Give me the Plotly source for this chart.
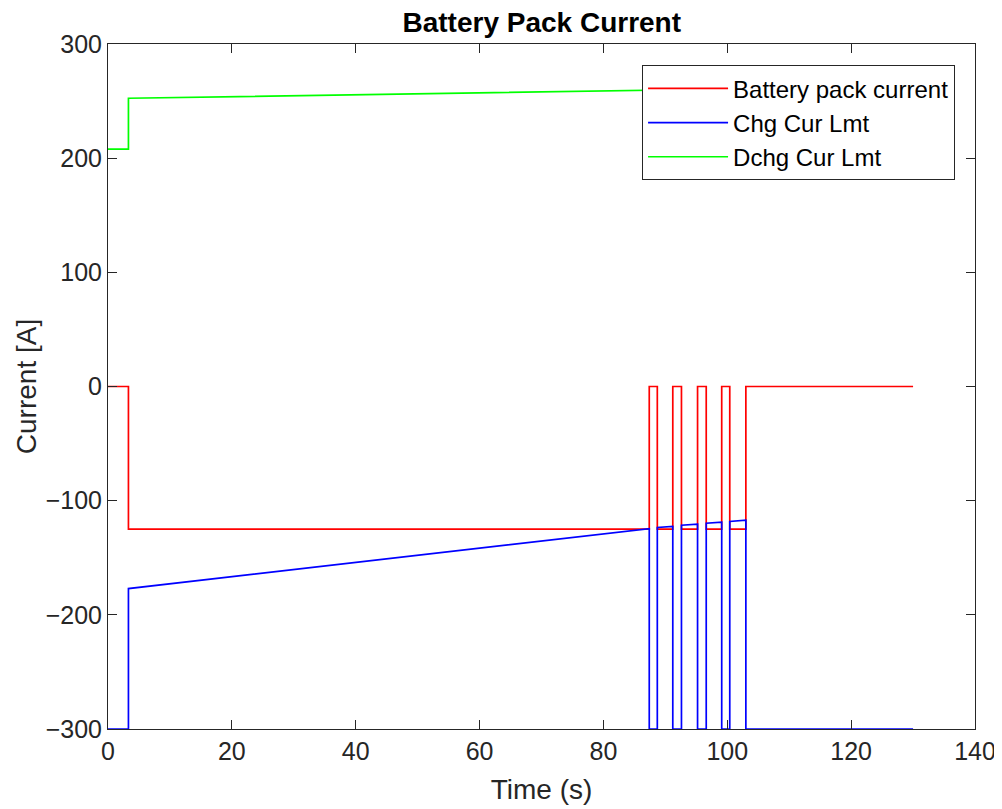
import plotly.graph_objects as go

# Time breakpoints (s)
t_pts = [0, 3.3, 3.3, 87.4, 87.4, 88.7, 88.7, 91.2, 91.2, 92.6, 92.6, 95.2, 95.2,
         96.6, 96.6, 99.1, 99.1, 100.4, 100.4, 103.0, 103.0, 130]
# Battery pack current (A)
pack_current = [0, 0, -125, -125, 0, 0, -125, -125, 0, 0, -125, -125, 0,
                0, -125, -125, 0, 0, -125, -125, 0, 0]
# Charge current limit (A)
chg_limit = [-300, -300, -177, -124.5, -300, -300, -123.5, -122.5, -300, -300, -121.5, -120.5, -300,
             -300, -119.8, -118.8, -300, -300, -118.2, -117, -300, -300]
# Discharge current limit (A)
t_dchg = [0, 3.3, 3.3, 130]
dchg_limit = [208, 208, 252.5, 263]

font_family = "Liberation Sans, Arial, sans-serif"
axis_color = "#262626"

fig = go.Figure()
fig.add_trace(go.Scatter(x=t_pts, y=pack_current, mode="lines", name="Battery pack current",
                         line=dict(color="#ff0000", width=1.7)))
fig.add_trace(go.Scatter(x=t_pts, y=chg_limit, mode="lines", name="Chg Cur Lmt",
                         line=dict(color="#0000ff", width=1.7)))
fig.add_trace(go.Scatter(x=t_dchg, y=dchg_limit, mode="lines", name="Dchg Cur Lmt",
                         line=dict(color="#00ff00", width=1.7)))

axis_common = dict(showgrid=False, zeroline=False, showline=True, linecolor=axis_color,
                   linewidth=1, mirror="ticks", ticks="inside", ticklen=9, tickcolor=axis_color,
                   automargin=False,
                   tickfont=dict(family=font_family, size=25, color=axis_color))

fig.update_layout(
    width=994, height=801,
    margin=dict(l=100, r=27, t=36, b=80),
    paper_bgcolor="white", plot_bgcolor="white",
    title=dict(text="<b>Battery Pack Current</b>", x=0.537, xanchor="center", y=0.982, yanchor="middle",
               font=dict(family=font_family, size=28, color="black")),
    xaxis=dict(range=[0, 140], dtick=20,
               title=dict(text="Time (s)", font=dict(family=font_family, size=28, color=axis_color), standoff=15),
               **axis_common),
    yaxis=dict(range=[-300, 300], dtick=100,
               title=dict(text="Current [A]", font=dict(family=font_family, size=28, color=axis_color), standoff=0),
               **axis_common),
    legend=dict(x=0.977, y=0.969, xanchor="right", yanchor="top",
                bgcolor="white", bordercolor=axis_color, borderwidth=1,
                font=dict(family=font_family, size=24, color="black"),
                itemwidth=80, tracegroupgap=0),
    showlegend=True,
)

fig.write_html("out.html")
